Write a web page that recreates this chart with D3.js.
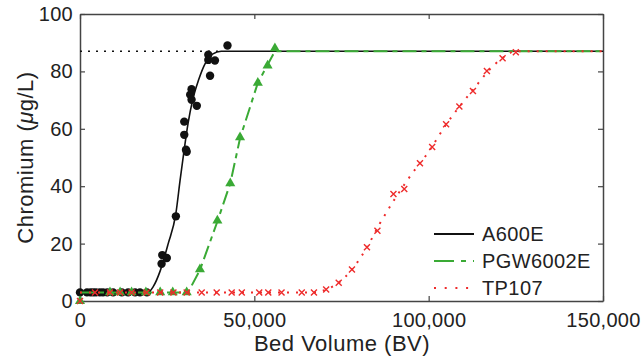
<!DOCTYPE html>
<html lang="en">
<head>
    <meta charset="UTF-8">
    <title>Chromium breakthrough</title>
    <script src="https://d3js.org/d3.v7.min.js"></script>
    <style>
        body { margin: 0; background: #fff; }
        svg text { font-family: "Liberation Sans", Arial, sans-serif; fill: #222; }
    </style>
</head>
<body>
    <svg id="chart" width="642" height="359"></svg>
    <script>
        // gemessene Punkte (BV, µg/L)
        var a600ePoints = [[0,3],[2000,3],[3000,3],[3800,3],[4600,3],[5700,3],[6600,3],[7800,3],[9500,3],[12000,3],[13800,3],[15800,3],[17200,3],[19200,3],
            [23400,13],[23600,16],[24900,15],[27500,29.5],[30400,52.7],[30600,52],[29900,57.9],[29900,62.5],[31600,71.9],[32000,73.8],[32000,70.1],[33500,68],
            [37300,78.5],[36800,85.8],[36800,84],[38700,83.8],[42300,89]];
        var pgwPoints = [[0,0],[8600,3],[11500,3],[14800,3],[18900,3],[23000,3],[26600,3],[30600,3],[34400,11],[39400,28],[43100,41],[45900,57],[51000,76],[53800,82],[55900,88]];
        var tp107Points = [[0,0],[4300,3],[8600,3],[11500,3],[14800,3],[19100,3],[23000,3],[26800,3],[30600,3],[34900,3],[39200,3],[43500,3],[46400,3],[51400,3],[54000,3],[57800,3],[63600,3],[67100,3],
            [70600,4],[74200,6.4],[78000,11],[82300,18.7],[85300,24.5],[89900,37.3],[93000,39],[97500,48],[101000,53.7],[105000,61.6],[108800,67.8],[112700,73.2],[116700,80.1],[121200,84.6],[125000,86.7]];

        // Modellkurven
        var a600eFit = [[0,3],[19500,3],[21000,5],[23000,10.5],[25300,20],[27500,30.5],[28700,42],[29800,52],[31000,62],[32300,70],[34000,77],[36000,83],[38000,86],[40500,87],[150000,87]];
        var pgwFit = [[0,3],[31000,3],[34400,10.8],[39400,27.7],[43100,41],[45900,56.7],[51000,76],[53800,82.3],[55900,87],[150000,87]];
        var tp107Fit = [[0,3],[67000,3],[70600,4],[74200,6.4],[78000,11],[82300,18.7],[86000,27],[90000,35],[95000,44],[100000,52],[105000,61.5],[109000,68],[113000,74],[117000,80],[121000,84.5],[125000,87],[150000,87]];
        var saturation = [[0,87],[40500,87]];

        var xTicks = [0, 50000, 100000, 150000];
        var yTicks = [0, 20, 40, 60, 80, 100];
        var seriesNames = ["A600E", "PGW6002E", "TP107"];

        var W = 642, H = 359;
        var margin = {top: 14, right: 39, bottom: 58, left: 80};
        var w = W - margin.left - margin.right;
        var h = H - margin.top - margin.bottom;

        var black = "#111", green = "#3aaa35", red = "#ee2b2b";

        var svg = d3.select("#chart");
        var g = svg.append("g").attr("transform", "translate(" + margin.left + "," + margin.top + ")");

        var x = d3.scaleLinear().domain([0, 150000]).range([0, w]);
        var y = d3.scaleLinear().domain([0, 100]).range([h, 0]);

        // Achsen (Ticks nach innen)
        function styleAxis(sel) {
            sel.selectAll(".domain").attr("stroke", "#444").attr("stroke-width", 1.5);
            sel.selectAll(".tick line").attr("stroke", "#444").attr("stroke-width", 1.2);
            sel.selectAll(".tick text").style("font-size", "20px").style("letter-spacing", "0.3px").attr("fill", "#222");
        }
        g.append("g").attr("transform", "translate(0," + h + ")")
            .call(d3.axisBottom(x).tickValues(xTicks).tickSize(-5).tickSizeOuter(0).tickPadding(12).tickFormat(d3.format(",")))
            .call(styleAxis);
        g.append("g")
            .call(d3.axisTop(x).tickValues(xTicks).tickSize(-5).tickSizeOuter(0).tickFormat(""))
            .call(styleAxis);
        g.append("g")
            .call(d3.axisLeft(y).tickValues(yTicks).tickSize(-5).tickSizeOuter(0).tickPadding(7))
            .call(styleAxis);
        g.append("g").attr("transform", "translate(" + w + ",0)")
            .call(d3.axisRight(y).tickValues(yTicks).tickSize(-5).tickSizeOuter(0).tickFormat(""))
            .call(styleAxis);

        var line = d3.line().x(d => x(d[0])).y(d => y(d[1]));
        var smooth = d3.line().x(d => x(d[0])).y(d => y(d[1])).curve(d3.curveMonotoneX);

        // Sättigungslinie
        g.append("path").datum(saturation).attr("d", line)
            .attr("fill", "none").attr("stroke", black).attr("stroke-width", 1.5).attr("stroke-dasharray", "2,6");

        // A600E
        g.append("path").datum(a600eFit).attr("d", smooth)
            .attr("fill", "none").attr("stroke", black).attr("stroke-width", 1.6);
        g.selectAll("circle.a600e").data(a600ePoints).join("circle")
            .attr("class", "a600e")
            .attr("cx", d => x(d[0])).attr("cy", d => y(d[1])).attr("r", 4.2)
            .attr("fill", black);

        // PGW6002E
        g.append("path").datum(pgwFit).attr("d", line)
            .attr("fill", "none").attr("stroke", green).attr("stroke-width", 2).attr("stroke-dasharray", "14,5,5,5");
        g.selectAll("path.pgw").data(pgwPoints).join("path")
            .attr("class", "pgw")
            .attr("d", d3.symbol(d3.symbolTriangle).size(44))
            .attr("transform", d => "translate(" + x(d[0]) + "," + y(d[1]) + ")")
            .attr("fill", green);

        // TP107
        g.append("path").datum(tp107Fit).attr("d", smooth)
            .attr("fill", "none").attr("stroke", red).attr("stroke-width", 2).attr("stroke-dasharray", "2,7");
        g.selectAll("path.tp").data(tp107Points).join("path")
            .attr("class", "tp")
            .attr("d", "M-3,-3L3,3M-3,3L3,-3")
            .attr("transform", d => "translate(" + x(d[0]) + "," + y(d[1]) + ")")
            .attr("fill", "none").attr("stroke", red).attr("stroke-width", 1.4);

        // Legende
        var legendStyles = [
            {color: black, dash: null},
            {color: green, dash: "20,7,5,7"},
            {color: red, dash: "2,8.7"}
        ];
        var legend = svg.append("g").attr("transform", "translate(434,234)");
        seriesNames.forEach(function(name, i) {
            var row = legend.append("g").attr("transform", "translate(0," + (i * 27) + ")");
            row.append("line").attr("x1", 0).attr("x2", 40).attr("y1", 0).attr("y2", 0)
                .attr("stroke", legendStyles[i].color).attr("stroke-width", 2)
                .attr("stroke-dasharray", legendStyles[i].dash);
            row.append("text").attr("x", 48).attr("y", 7).style("font-size", "20px").style("letter-spacing", "0.4px").text(name);
        });

        // Achsentitel
        svg.append("text")
            .attr("x", 342).attr("y", 351)
            .attr("text-anchor", "middle").style("font-size", "22px").style("letter-spacing", "0.5px")
            .text("Bed Volume (BV)");
        var yl = svg.append("text")
            .attr("transform", "translate(33," + (margin.top + h / 2) + ") rotate(-90)")
            .attr("text-anchor", "middle").style("font-size", "22px").style("letter-spacing", "0.5px");
        yl.append("tspan").text("Chromium (");
        yl.append("tspan").style("font-style", "italic").text("\u03bc");
        yl.append("tspan").text("g/L)");
    </script>
</body>
</html>
